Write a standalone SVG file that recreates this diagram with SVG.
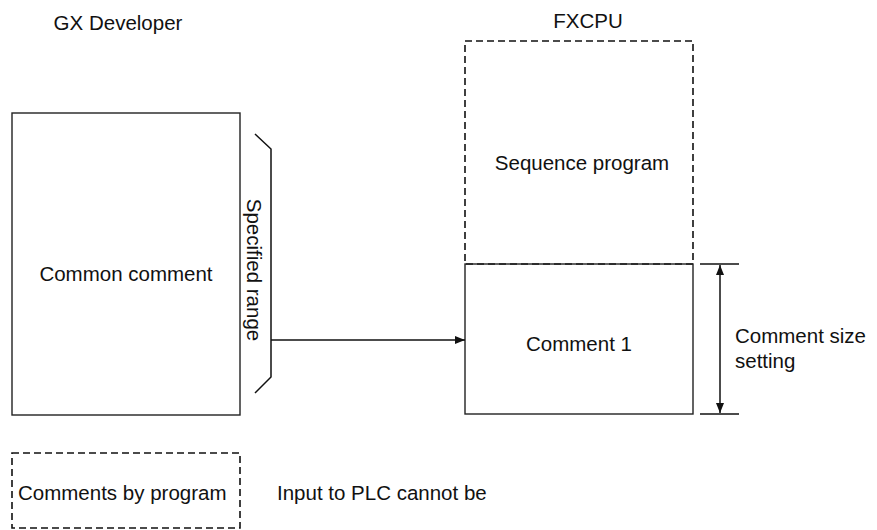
<svg xmlns="http://www.w3.org/2000/svg" width="877" height="530" viewBox="0 0 877 530">
<defs>
<style>
text{font-family:"Liberation Sans",Arial,sans-serif;font-size:20.5px;fill:#111}
.box{fill:none;stroke:#222;stroke-width:1.4}
.dash{fill:none;stroke:#111;stroke-width:1.6;stroke-dasharray:7 4}
.ln{fill:none;stroke:#111;stroke-width:1.5}
</style>
<marker id="ah" viewBox="0 0 10 8" refX="10" refY="4" markerWidth="10" markerHeight="8" markerUnits="userSpaceOnUse" orient="auto-start-reverse">
<path d="M0,0 L10,4 L0,8 Z" fill="#111"/>
</marker>
</defs>
<rect width="877" height="530" fill="#fff"/>
<text x="118" y="30" text-anchor="middle">GX Developer</text>
<text x="588" y="28" text-anchor="middle">FXCPU</text>
<g id="common-comment">
<rect class="box" x="12" y="113" width="228" height="302"/>
<text x="126" y="281" text-anchor="middle">Common comment</text>
</g>
<g id="specified-range">
<path class="ln" d="M255,134 L271,149 L271,377 L255,393"/>
<text transform="translate(247,270) rotate(90)" text-anchor="middle">Specified range</text>
</g>
<g id="sequence-program">
<rect class="dash" x="465" y="41" width="228" height="223"/>
<text x="582" y="170" text-anchor="middle">Sequence program</text>
</g>
<g id="comment1">
<rect class="box" x="465" y="264" width="228" height="150" fill="#fff"/>
<text x="579" y="351" text-anchor="middle">Comment 1</text>
</g>
<g id="comment-size">
<line class="ln" x1="700" y1="264" x2="739" y2="264"/>
<line class="ln" x1="700" y1="414" x2="739" y2="414"/>
<text x="735" y="343">Comment size</text>
<text x="735" y="368">setting</text>
</g>
<g id="legend">
<rect class="dash" x="12" y="453" width="228" height="75"/>
<text x="18" y="500">Comments by program</text>
<text x="277" y="500">Input to PLC cannot be</text>
</g>
<g id="connectors">
<line class="ln" x1="271" y1="340" x2="465" y2="340" marker-end="url(#ah)"/>
<line class="ln" x1="720" y1="265" x2="720" y2="413" marker-start="url(#ah)" marker-end="url(#ah)"/>
</g>
</svg>
